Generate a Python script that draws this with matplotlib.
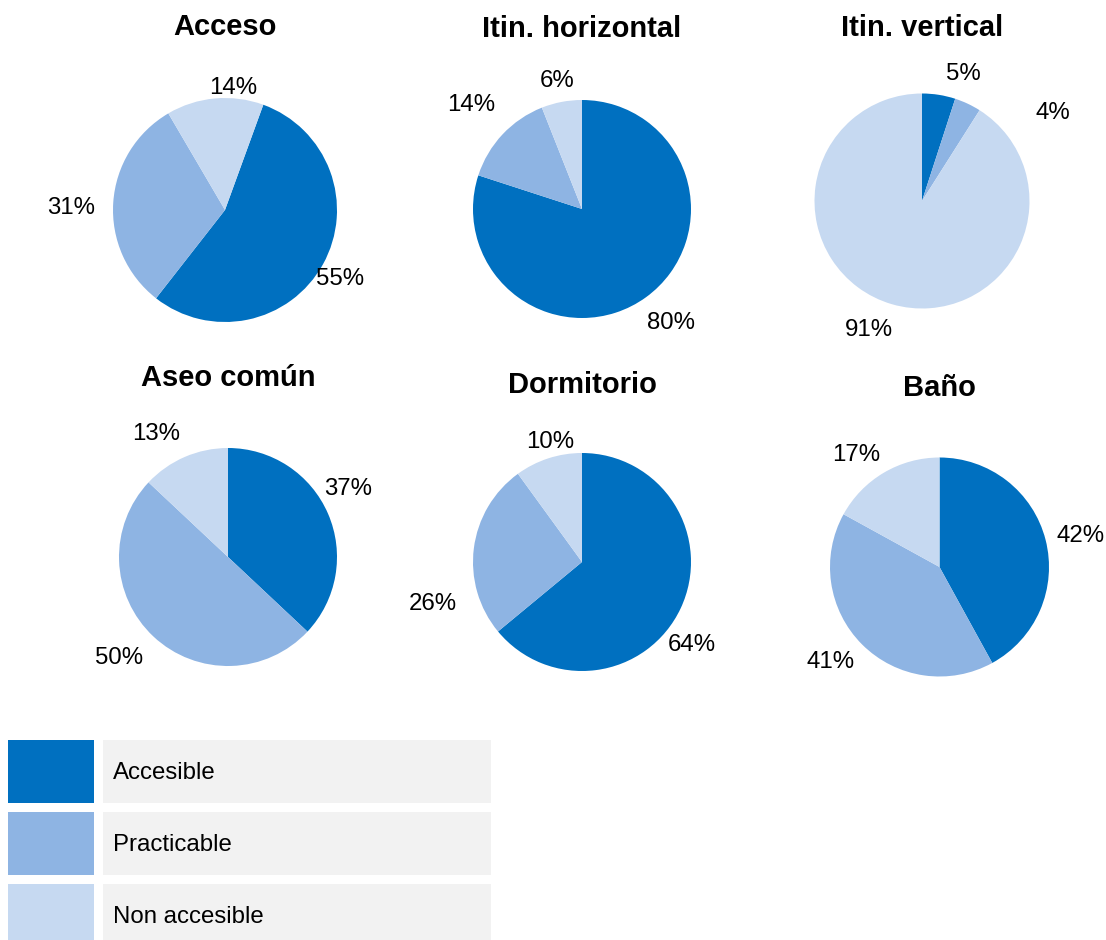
import numpy as np
import matplotlib
matplotlib.use("Agg")
import matplotlib.pyplot as plt
from matplotlib.patches import Rectangle

plt.rcParams["font.family"] = ["Liberation Sans", "DejaVu Sans"]

# data
titles = ["Acceso", "Itin. horizontal", "Itin. vertical",
          "Aseo común", "Dormitorio", "Baño"]
categories = ["Accesible", "Practicable", "Non accesible"]
acceso = [55, 31, 14]
itin_horizontal = [80, 14, 6]
itin_vertical = [5, 4, 91]
aseo_comun = [37, 50, 13]
dormitorio = [64, 26, 10]
bano = [42, 41, 17]
series = [acceso, itin_horizontal, itin_vertical, aseo_comun, dormitorio, bano]

colors = ["#0070C0", "#8EB4E3", "#C6D9F1"]

W, H = 1106, 940
# pie centre (px), radius (px), first slice angle, title y (px)
pie_layout = [
    (225, 210, 112, 20, 27),
    (582, 209, 109, 0, 29),
    (922, 201, 107.5, 0, 28),
    (228, 557, 109, 0, 378),
    (582, 562, 109, 0, 385),
    (939.5, 567, 109.5, 0, 388),
]
# label distance (in radii) and angular nudge (deg, clockwise) per slice
label_dist = [
    [1.20, 1.37, 1.09],
    [1.33, 1.39, 1.20],
    [1.24, 1.47, 1.30],
    [1.27, 1.36, 1.31],
    [1.26, 1.42, 1.14],
    [1.32, 1.32, 1.27],
]
label_nudge = [
    [2, -3, 9],
    [-2, 0, 0],
    [9, 31, 6],
    [-6, 4, -7],
    [12, -23, 3],
    [2, 4, -6],
]

fig = plt.figure(figsize=(W / 100, H / 100), dpi=100)

for vals, (cx, cy, r, start, ty), ttl, dists, nudges in zip(
        series, pie_layout, titles, label_dist, label_nudge):
    ax = fig.add_axes([(cx - r) / W, 1 - (cy + r) / H, 2 * r / W, 2 * r / H])
    wedges, _ = ax.pie(vals, colors=colors, startangle=90 - start,
                       counterclock=False, radius=1,
                       wedgeprops=dict(linewidth=0))
    ax.set_xlim(-1, 1)
    ax.set_ylim(-1, 1)
    ax.set_aspect("auto")
    ax.axis("off")
    for w, v, d, n in zip(wedges, vals, dists, nudges):
        mid = np.deg2rad((w.theta1 + w.theta2) / 2 - n)
        ax.text(d * np.cos(mid), d * np.sin(mid), f"{v}%",
                ha="center", va="center", fontsize=17.3, color="#000000")
    fig.text(cx / W, 1 - ty / H, ttl, ha="center", va="center",
             fontsize=21, fontweight="bold")

# legend boxes
leg_rows = [(740, 803), (812, 875), (884, 940)]
for (y0, y1), col, lab in zip(leg_rows, colors, categories):
    fig.patches.append(Rectangle((8 / W, 1 - y1 / H), 86 / W, (y1 - y0) / H,
                                 transform=fig.transFigure, facecolor=col,
                                 edgecolor="none"))
    fig.patches.append(Rectangle((103 / W, 1 - y1 / H), 388 / W, (y1 - y0) / H,
                                 transform=fig.transFigure, facecolor="#F2F2F2",
                                 edgecolor="none"))
    fig.text(113 / W, 1 - (y0 + 33) / H, lab, ha="left", va="center",
             fontsize=17.3, color="#000000")

fig.savefig("out.png", dpi=100)
